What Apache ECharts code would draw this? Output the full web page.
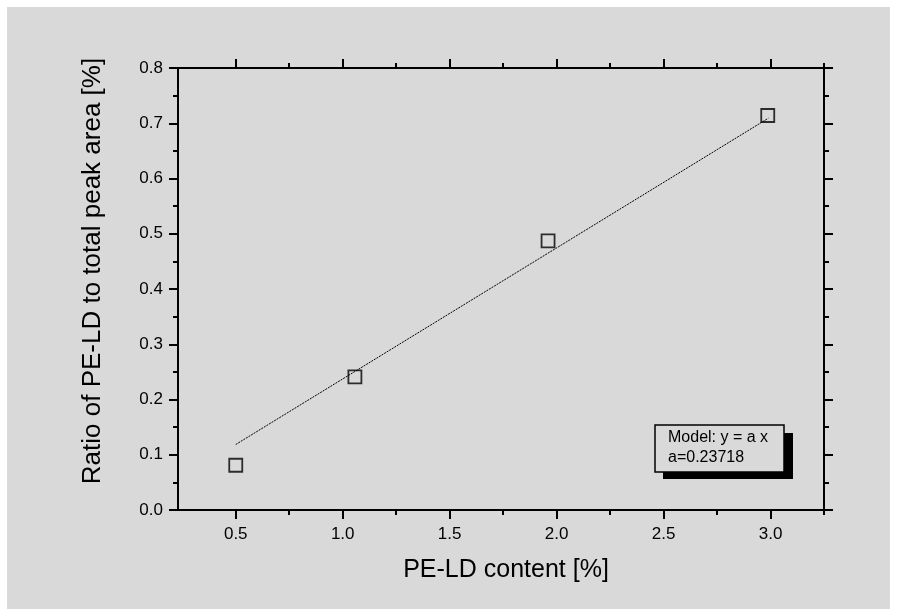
<!DOCTYPE html>
<html>
<head>
<meta charset="utf-8">
<script src="https://cdn.jsdelivr.net/npm/echarts@6/dist/echarts.min.js"></script>
<style>
  html, body { margin: 0; padding: 0; background: #fff; }
  #chart { width: 897px; height: 616px; }
</style>
</head>
<body>
<div id="chart"></div>
<script>
// measured points
const contentX = [0.5, 1.057, 1.96, 2.987]
const ratioY = [0.081, 0.241, 0.487, 0.714]
// fit model y = a x
const slopeA = 0.23718
const fitX = [0.5, 2.99]
// tick positions
const majorX = [0.5, 1.0, 1.5, 2.0, 2.5, 3.0]
const minorX = [0.75, 1.25, 1.75, 2.25, 2.75, 3.25]

const BG = '#d9d9d9'
const FONT = "'Liberation Sans', Arial, sans-serif"

const fitData = fitX.map(x => [x, slopeA * x])
const pointData = contentX.map((x, i) => [x, ratioY[i]])

function xAx (pos, ticks, major) {
  return {
    type: 'value',
    position: pos,
    min: 0.23,
    max: 3.25,
    axisLine: { show: major, lineStyle: { color: '#000', width: 2 } },
    axisTick: {
      show: true,
      customValues: ticks,
      length: major ? 9 : 5,
      lineStyle: { color: '#000', width: 2 }
    },
    axisLabel: {
      show: pos === 'bottom' && major,
      customValues: ticks,
      formatter: v => v.toFixed(1),
      color: '#000',
      fontFamily: FONT,
      fontSize: 17,
      margin: 16
    },
    splitLine: { show: false }
  }
}

function yAx (pos) {
  return {
    type: 'value',
    position: pos,
    min: 0,
    max: 0.8,
    interval: 0.1,
    axisLine: { show: true, lineStyle: { color: '#000', width: 2 } },
    axisTick: { show: true, length: 9, lineStyle: { color: '#000', width: 2 } },
    minorTick: { show: true, splitNumber: 2, length: 5, lineStyle: { color: '#000', width: 2 } },
    axisLabel: {
      show: pos === 'left',
      formatter: v => v.toFixed(1),
      color: '#000',
      fontFamily: FONT,
      fontSize: 17,
      margin: 15
    },
    splitLine: { show: false },
    minorSplitLine: { show: false }
  }
}

const xAxes = [
  xAx('bottom', majorX, true),
  xAx('bottom', minorX, false),
  xAx('top', majorX, true),
  xAx('top', minorX, false)
]
xAxes[0].name = 'PE-LD content [%]'
xAxes[0].nameLocation = 'middle'
xAxes[0].nameGap = 48
xAxes[0].nameTextStyle = { color: '#000', fontFamily: FONT, fontSize: 25, padding: [0, 0, 0, 10] }

const yAxes = [yAx('left'), yAx('right')]
yAxes[0].name = 'Ratio of PE-LD to total peak area [%]'
yAxes[0].nameLocation = 'middle'
yAxes[0].nameGap = 72
yAxes[0].nameTextStyle = { color: '#000', fontFamily: FONT, fontSize: 26, padding: [0, 0, 0, 36] }

const chart = echarts.init(document.getElementById('chart'))
chart.setOption({
  animation: false,
  backgroundColor: '#fff',
  grid: { left: 178, top: 68, width: 646, height: 442 },
  xAxis: xAxes,
  yAxis: yAxes,
  graphic: [
    { type: 'rect', z: -10, silent: true, shape: { x: 7, y: 7, width: 883, height: 602 }, style: { fill: BG } },
    { type: 'rect', z: 10, shape: { x: 663, y: 433, width: 130, height: 46 }, style: { fill: '#000' } },
    { type: 'rect', z: 11, shape: { x: 655, y: 425, width: 129, height: 47 }, style: { fill: BG, stroke: '#000', lineWidth: 1.5 } },
    {
      type: 'text', z: 12, x: 668, y: 428,
      style: {
        text: 'Model: y = a x\na=0.23718',
        fill: '#000',
        font: '16px ' + FONT,
        lineHeight: 20,
        verticalAlign: 'top'
      }
    }
  ],
  series: [
    {
      type: 'line',
      data: fitData,
      symbol: 'none',
      lineStyle: { color: '#000', width: 1, type: [2, 1] },
      z: 2
    },
    {
      type: 'scatter',
      data: pointData,
      symbol: 'rect',
      symbolSize: 13,
      itemStyle: { color: 'rgba(0,0,0,0)', borderColor: '#000', borderWidth: 1.8 },
      z: 3
    }
  ]
})
</script>
</body>
</html>
